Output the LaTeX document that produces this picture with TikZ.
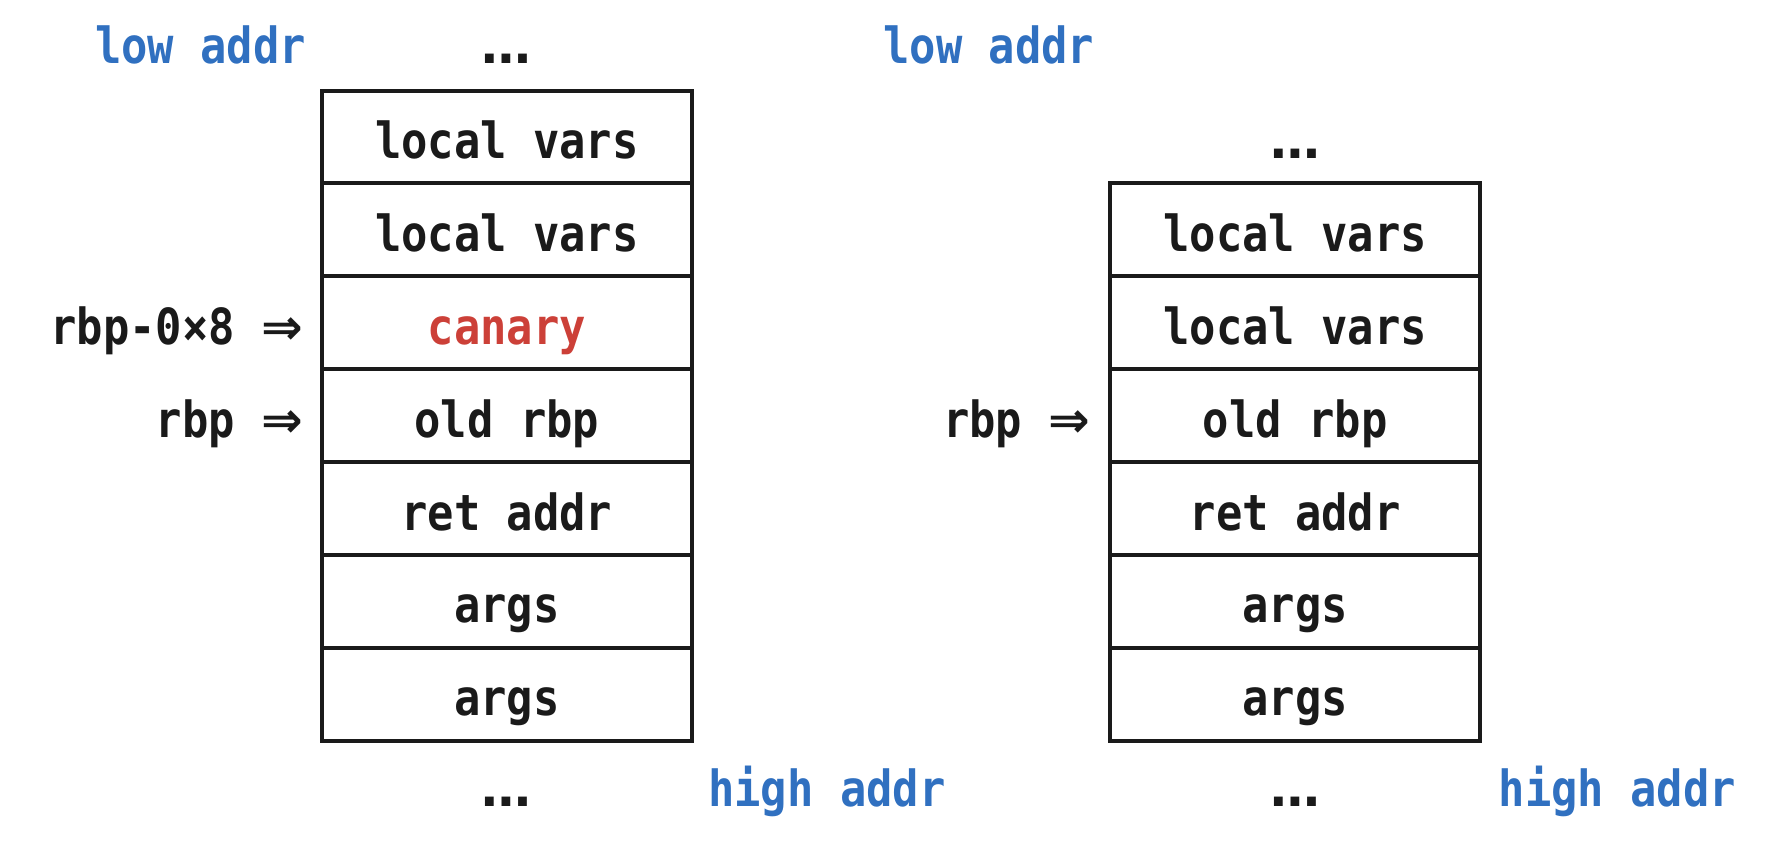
\documentclass[tikz,border=0pt]{standalone}
\usepackage{fontspec}
\setmonofont[FakeStretch=0.88]{DejaVu Sans Mono}
\newfontfamily\symfont{DejaVu Sans}
\usetikzlibrary{positioning}
\definecolor{addrblue}{RGB}{48,112,192}
\definecolor{canaryred}{RGB}{204,64,56}
\definecolor{ink}{RGB}{26,26,26}
\newcommand{\dotsmark}{{\symfont …}}
\newcommand{\ptrmark}{{\symfont ⇒}}
\tikzset{
    cell/.style={draw=ink, line width=1pt, minimum width=3.27cm, minimum height=0.82cm, inner sep=0pt, text height=0.38cm, text depth=0cm},
    ptr/.style={inner sep=0pt, text height=0.38cm, text depth=0cm},
    addr/.style={inner sep=0pt, text=addrblue, anchor=base},
    dots/.style={inner sep=0pt, anchor=base},
}
\begin{document}
\begin{tikzpicture}[font=\ttfamily\bfseries\fontsize{12.5}{15}\selectfont, text=ink]
    \useasboundingbox (0,0) rectangle (15.68,-7.43);

    \node[addr] (lowL) at (1.77, -0.56) {low addr};
    \node[dots] (topL) at (4.475, -0.56) {\dotsmark};
    \node[cell] (cL1) at (4.475, -1.21) {local vars};
    \node[cell] (cL2) at (4.475, -2.03) {local vars};
    \node[cell, text=canaryred] (cL3) at (4.475, -2.85) {canary};
    \node[cell] (cL4) at (4.475, -3.67) {old rbp};
    \node[cell] (cL5) at (4.475, -4.49) {ret addr};
    \node[cell] (cL6) at (4.475, -5.31) {args};
    \node[cell] (cL7) at (4.475, -6.13) {args};
    \node[dots] (botL) at (4.475, -7.12) {\dotsmark};
    \node[addr] (highL) at (7.30, -7.12) {high addr};
    \node[ptr, left=0.14cm of cL3] (canptr) {rbp-0×8 \ptrmark};
    \node[ptr, left=0.14cm of cL4] (rbpL) {rbp \ptrmark};

    \node[addr] (lowR) at (8.73, -0.56) {low addr};
    \node[dots] (topR) at (11.435, -1.40) {\dotsmark};
    \node[cell] (cR1) at (11.435, -2.03) {local vars};
    \node[cell] (cR2) at (11.435, -2.85) {local vars};
    \node[cell] (cR3) at (11.435, -3.67) {old rbp};
    \node[cell] (cR4) at (11.435, -4.49) {ret addr};
    \node[cell] (cR5) at (11.435, -5.31) {args};
    \node[cell] (cR6) at (11.435, -6.13) {args};
    \node[dots] (botR) at (11.435, -7.12) {\dotsmark};
    \node[addr] (highR) at (14.28, -7.12) {high addr};
    \node[ptr, left=0.15cm of cR3] (rbpR) {rbp \ptrmark};

\end{tikzpicture}
\end{document}
